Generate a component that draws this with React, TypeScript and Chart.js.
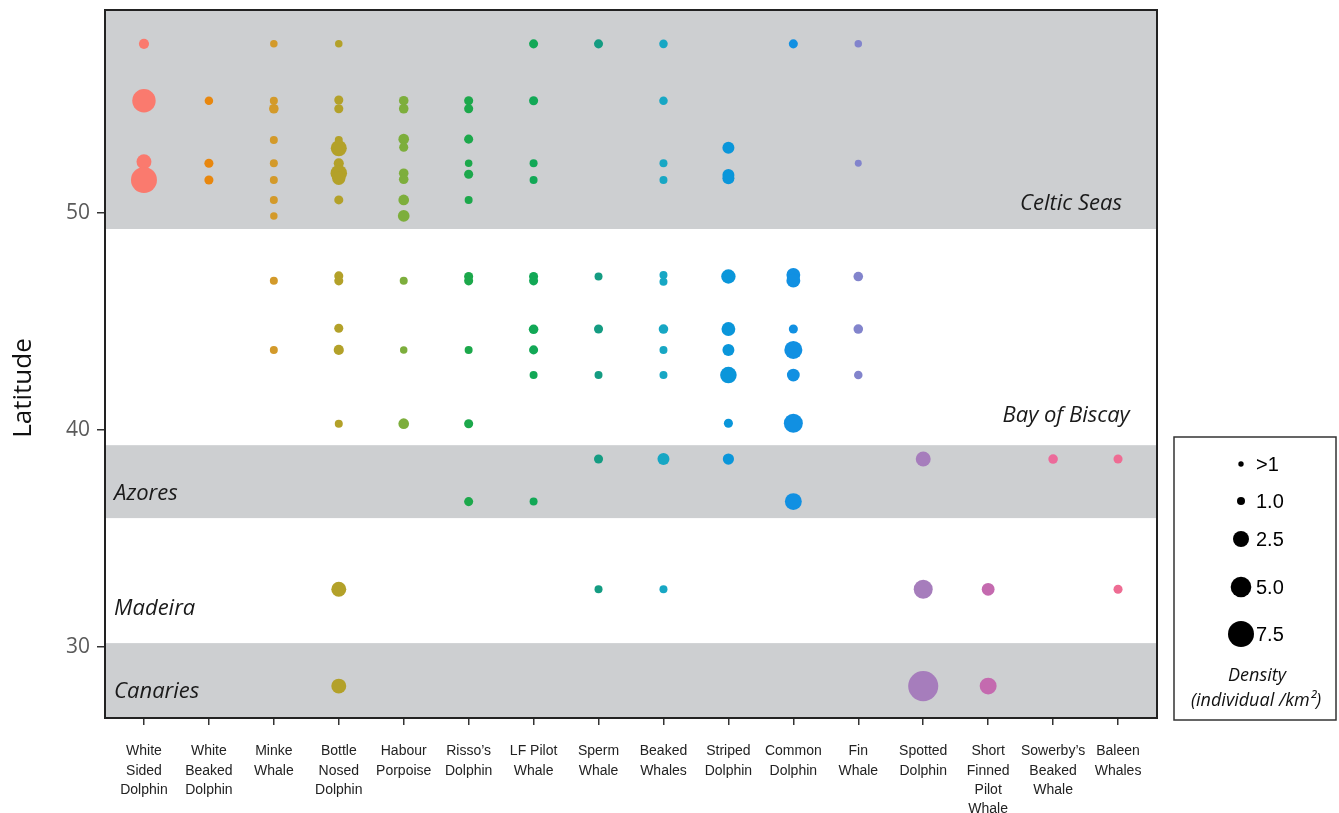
import React, { useEffect, useRef } from 'react';
import { Chart, registerables } from 'chart.js';

Chart.register(...registerables);

// ---- categories (x axis) ----
const speciesLabels: string[][] = [
  ['White', 'Sided', 'Dolphin'],
  ['White', 'Beaked', 'Dolphin'],
  ['Minke', 'Whale'],
  ['Bottle', 'Nosed', 'Dolphin'],
  ['Habour', 'Porpoise'],
  ['Risso’s', 'Dolphin'],
  ['LF Pilot', 'Whale'],
  ['Sperm', 'Whale'],
  ['Beaked', 'Whales'],
  ['Striped', 'Dolphin'],
  ['Common', 'Dolphin'],
  ['Fin', 'Whale'],
  ['Spotted', 'Dolphin'],
  ['Short', 'Finned', 'Pilot', 'Whale'],
  ['Sowerby’s', 'Beaked', 'Whale'],
  ['Baleen', 'Whales'],
];

const speciesColors = [
  '#FA7A6E', '#E8870E', '#D39A2A', '#B3A129', '#7DAE3C', '#1CA84B',
  '#12A856', '#149C82', '#17A7C4', '#0A96DA', '#1190E2', '#8284CC',
  '#A67DBC', '#C46AAF', '#EC6A9A', '#EE6C93',
];

// ---- series: latitude and density (individual / km²) ----
const whiteSidedLat = [57.79, 55.17, 52.36, 51.52];
const whiteSidedDen = [1.4, 6.3, 2.3, 7.5];
const whiteBeakedLat = [55.17, 52.29, 51.52];
const whiteBeakedDen = [1.1, 1.2, 1.2];
const minkeLat = [57.79, 55.17, 54.8, 53.36, 52.29, 51.52, 50.6, 49.86, 46.87, 43.69];
const minkeDen = [0.9, 1.0, 1.3, 1.0, 1.0, 1.0, 1.0, 0.9, 1.0, 1.0];
const bottleLat = [57.79, 55.2, 54.8, 53.36, 52.98, 52.29, 51.83, 51.6, 50.6, 47.1, 46.87, 44.69, 43.69, 40.29, 32.66, 28.2];
const bottleDen = [0.9, 1.2, 1.2, 1.0, 2.5, 1.4, 2.8, 2.0, 1.2, 1.2, 1.2, 1.2, 1.4, 1.0, 2.3, 2.3];
const habourLat = [55.17, 54.8, 53.4, 53.03, 51.83, 51.55, 50.6, 49.86, 46.87, 43.69, 40.29];
const habourDen = [1.3, 1.3, 1.5, 1.2, 1.3, 1.3, 1.5, 1.7, 1.0, 0.9, 1.5];
const rissoLat = [55.17, 54.8, 53.4, 52.29, 51.78, 50.6, 47.07, 46.87, 43.69, 40.29, 36.7];
const rissoDen = [1.2, 1.2, 1.2, 0.9, 1.2, 1.0, 1.2, 1.2, 1.0, 1.2, 1.2];
const lfPilotLat = [57.79, 55.17, 52.29, 51.52, 47.07, 46.87, 44.64, 43.69, 42.53, 36.7];
const lfPilotDen = [1.2, 1.2, 1.0, 1.0, 1.2, 1.2, 1.3, 1.2, 1.0, 1.0];
const spermLat = [57.79, 47.07, 44.65, 42.53, 38.66, 32.66];
const spermDen = [1.2, 1.0, 1.2, 1.0, 1.2, 1.0];
const beakedLat = [57.79, 55.17, 52.29, 51.52, 47.14, 46.83, 44.65, 43.69, 42.53, 38.66, 32.66];
const beakedDen = [1.1, 1.1, 1.0, 1.0, 1.0, 1.0, 1.3, 1.0, 1.0, 1.75, 1.0];
const stripedLat = [53.0, 51.75, 51.6, 47.07, 44.65, 43.69, 42.53, 40.31, 38.66];
const stripedDen = [1.75, 1.75, 1.75, 2.2, 2.1, 1.75, 2.8, 1.2, 1.6];
const commonLat = [57.79, 47.14, 46.88, 44.65, 43.69, 42.53, 40.31, 36.7];
const commonDen = [1.2, 2.1, 2.1, 1.2, 3.6, 1.9, 4.1, 3.0];
const finLat = [57.79, 52.29, 47.07, 44.65, 42.53];
const finDen = [0.9, 0.8, 1.3, 1.3, 1.1];
const spottedLat = [38.66, 32.66, 28.2];
const spottedDen = [2.3, 4.1, 9.4];
const shortFinnedLat = [32.66, 28.2];
const shortFinnedDen = [1.9, 3.0];
const sowerbyLat = [38.66];
const sowerbyDen = [1.3];
const baleenLat = [38.66, 32.66];
const baleenDen = [1.2, 1.2];

const seriesLat = [whiteSidedLat, whiteBeakedLat, minkeLat, bottleLat, habourLat, rissoLat, lfPilotLat,
  spermLat, beakedLat, stripedLat, commonLat, finLat, spottedLat, shortFinnedLat, sowerbyLat, baleenLat];
const seriesDen = [whiteSidedDen, whiteBeakedDen, minkeDen, bottleDen, habourDen, rissoDen, lfPilotDen,
  spermDen, beakedDen, stripedDen, commonDen, finDen, spottedDen, shortFinnedDen, sowerbyDen, baleenDen];

// ---- y axis ----
const yTicks = [30, 40, 50];
const yMin = 26.73;
const yMax = 59.35;
const yTitle = 'Latitude';

// ---- shaded regions (latitude bounds) ----
const bandLow = [49.26, 35.94, 20];
const bandHigh = [70, 39.3, 30.18];

// ---- region labels ----
const regionNames = ['Celtic Seas', 'Bay of Biscay', 'Azores', 'Madeira', 'Canaries'];
const regionLat = [50.41, 40.65, 37.05, 31.75, 27.93];
const regionX = [16.06, 16.18, 0.54, 0.54, 0.54];
const regionAlign: CanvasTextAlign[] = ['right', 'right', 'left', 'left', 'left'];

// ---- size legend ----
const legendLabels = ['>1', '1.0', '2.5', '5.0', '7.5'];
const legendDen = [0.5, 1.0, 2.5, 5.0, 7.5];

// density -> radius mapping (size scale)
const sizeDen = [0.5, 1.0, 2.5, 5.0, 7.5];
const sizeR = [2.7, 4.0, 8.0, 10.3, 13.0];
function radiusFor(d: number): number {
  if (d <= sizeDen[0]) return sizeR[0];
  for (let i = 1; i < sizeDen.length; i++) {
    if (d <= sizeDen[i]) {
      const t = (d - sizeDen[i - 1]) / (sizeDen[i] - sizeDen[i - 1]);
      return sizeR[i - 1] + t * (sizeR[i] - sizeR[i - 1]);
    }
  }
  const n = sizeDen.length - 1;
  const slope = (sizeR[n] - sizeR[n - 1]) / (sizeDen[n] - sizeDen[n - 1]);
  return sizeR[n] + (d - sizeDen[n]) * slope;
}

const decorPlugin = {
  id: 'decor',
  beforeDatasetsDraw(chart: any) {
    const { ctx, chartArea: ca, scales } = chart;
    const y = scales.y;
    const x = scales.x;
    ctx.save();
    ctx.beginPath();
    ctx.rect(ca.left, ca.top, ca.right - ca.left, ca.bottom - ca.top);
    ctx.clip();
    ctx.fillStyle = '#CDCFD1';
    for (let i = 0; i < bandLow.length; i++) {
      const y1 = y.getPixelForValue(bandHigh[i]);
      const y2 = y.getPixelForValue(bandLow[i]);
      ctx.fillRect(ca.left, y1, ca.right - ca.left, y2 - y1);
    }
    ctx.fillStyle = '#1a1a1a';
    ctx.font = 'italic 22px "Open Sans"';
    ctx.textBaseline = 'middle';
    for (let i = 0; i < regionNames.length; i++) {
      ctx.textAlign = regionAlign[i];
      ctx.fillText(regionNames[i], x.getPixelForValue(regionX[i]), y.getPixelForValue(regionLat[i]));
    }
    ctx.restore();
  },
  afterDraw(chart: any) {
    const { ctx, chartArea: ca } = chart;
    ctx.save();
    ctx.strokeStyle = '#222';
    ctx.lineWidth = 2;
    ctx.strokeRect(ca.left, ca.top, ca.right - ca.left, ca.bottom - ca.top);

    // y axis title
    ctx.save();
    ctx.translate(24, 388);
    ctx.rotate(-Math.PI / 2);
    ctx.fillStyle = '#111';
    ctx.font = '26px "Open Sans"';
    ctx.textAlign = 'center';
    ctx.textBaseline = 'middle';
    ctx.fillText(yTitle, 0, 0);
    ctx.restore();

    // size legend
    const bx = 1174, by = 437, bw = 162, bh = 283;
    ctx.lineWidth = 1.5;
    ctx.strokeStyle = '#333';
    ctx.strokeRect(bx, by, bw, bh);
    const itemY = [464, 501, 539, 587, 634];
    ctx.fillStyle = '#000';
    ctx.font = '20px "Liberation Sans", Arial';
    ctx.textBaseline = 'middle';
    ctx.textAlign = 'left';
    for (let i = 0; i < legendLabels.length; i++) {
      ctx.beginPath();
      ctx.arc(1241, itemY[i], radiusFor(legendDen[i]), 0, Math.PI * 2);
      ctx.fill();
      ctx.fillText(legendLabels[i], 1256, itemY[i] + 1);
    }
    ctx.textAlign = 'center';
    ctx.fillStyle = '#111';
    ctx.font = 'italic 18px "Open Sans"';
    ctx.fillText('Density', 1257, 676);
    ctx.fillText('(individual /km²)', 1256, 701);
    ctx.restore();
  },
};

export default function App() {
  const canvasRef = useRef<HTMLCanvasElement | null>(null);

  useEffect(() => {
    const canvas = canvasRef.current;
    if (!canvas) return;
    const datasets = seriesLat.map((lats, i) => ({
      label: speciesLabels[i].join(' '),
      data: lats.map((v) => ({ x: i + 1, y: v })),
      backgroundColor: speciesColors[i],
      borderWidth: 0,
      pointBorderWidth: 0,
      pointRadius: (c: any) => radiusFor(seriesDen[i][c.dataIndex]),
      pointHoverRadius: (c: any) => radiusFor(seriesDen[i][c.dataIndex]),
    }));

    const chart = new Chart(canvas, {
      type: 'scatter',
      data: { datasets },
      plugins: [decorPlugin],
      options: {
        animation: false,
        responsive: false,
        devicePixelRatio: 1,
        layout: { autoPadding: false, padding: { left: 0, top: 10, right: 182, bottom: 0 } },
        plugins: { legend: { display: false }, tooltip: { enabled: false } },
        scales: {
          x: {
            type: 'linear',
            min: 0.4,
            max: 16.6,
            afterBuildTicks: (s: any) => {
              s.ticks = speciesLabels.map((_, i) => ({ value: i + 1 }));
            },
            afterFit: (s: any) => {
              s.height = 95;
              s.paddingLeft = 0;
              s.paddingRight = 0;
            },
            border: { display: false },
            grid: { drawOnChartArea: false, drawTicks: true, tickLength: 7, color: '#333', lineWidth: 1.5 },
            ticks: {
              autoSkip: false,
              maxRotation: 0,
              minRotation: 0,
              padding: 17,
              color: '#222',
              font: { family: '"Liberation Sans", Arial', size: 14, lineHeight: 1.37 },
              callback: (v: any) => speciesLabels[Math.round(Number(v)) - 1] ?? '',
            },
          },
          y: {
            type: 'linear',
            min: yMin,
            max: yMax,
            afterBuildTicks: (s: any) => {
              s.ticks = yTicks.map((v) => ({ value: v }));
            },
            afterFit: (s: any) => {
              s.width = 105;
              s.paddingTop = 0;
              s.paddingBottom = 0;
            },
            border: { display: false },
            grid: { drawOnChartArea: false, drawTicks: true, tickLength: 8, color: '#333', lineWidth: 1.5 },
            ticks: {
              padding: 7,
              color: '#5a5a5a',
              font: { family: '"Open Sans"', size: 21 },
            },
          },
        },
      },
    } as any);

    return () => chart.destroy();
  }, []);

  return (
    <div style={{ position: 'fixed', left: 0, top: 0, width: 1339, height: 813, background: '#fff' }}>
      <canvas ref={canvasRef} width={1339} height={813} style={{ width: 1339, height: 813 }} />
    </div>
  );
}
